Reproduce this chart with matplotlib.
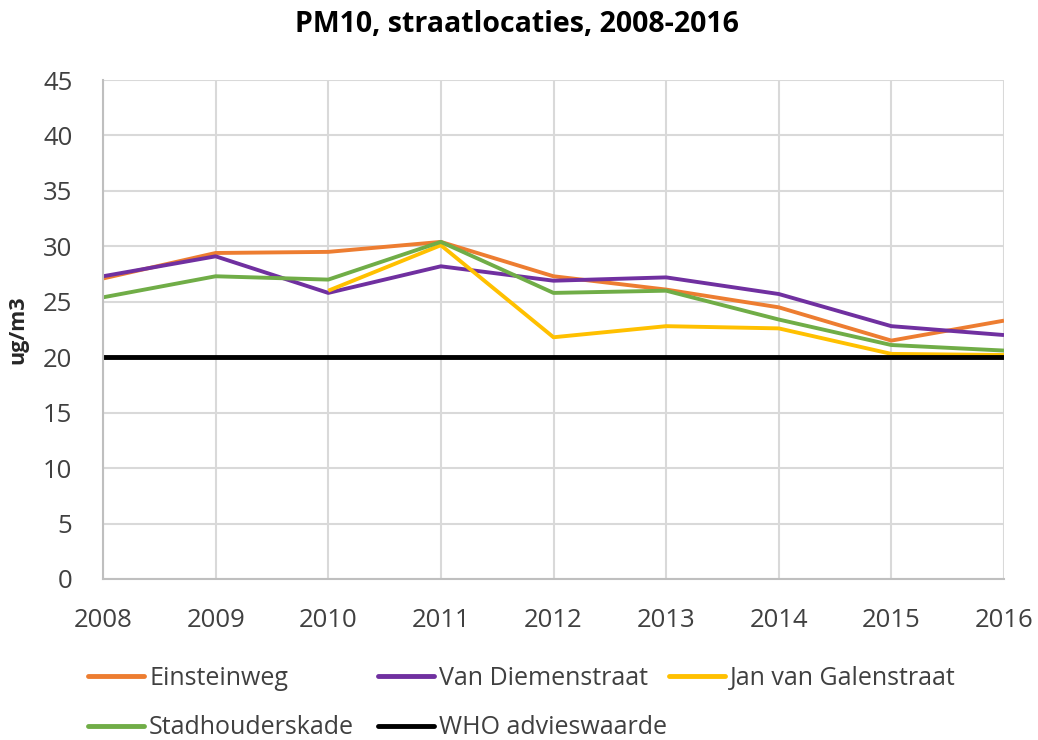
import numpy as np
import matplotlib
matplotlib.use("Agg")
import matplotlib.pyplot as plt

plt.rcParams['font.family'] = ['Open Sans', 'DejaVu Sans']

# PM10 annual means at street locations (ug/m3)
years = [2008, 2009, 2010, 2011, 2012, 2013, 2014, 2015, 2016]
einsteinweg = [27.1, 29.4, 29.5, 30.4, 27.3, 26.1, 24.5, 21.5, 23.3]
van_diemenstraat = [27.3, 29.1, 25.8, 28.2, 26.9, 27.2, 25.7, 22.8, 22.0]
jan_van_galenstraat = [np.nan, np.nan, 26.0, 30.1, 21.8, 22.8, 22.6, 20.3, 20.2]
stadhouderskade = [25.4, 27.3, 27.0, 30.4, 25.8, 26.0, 23.4, 21.1, 20.6]
who_advieswaarde = [20, 20, 20, 20, 20, 20, 20, 20, 20]

series = [
    ("Einsteinweg", einsteinweg, "#ED7D31", 2.8),
    ("Van Diemenstraat", van_diemenstraat, "#7030A0", 2.8),
    ("Jan van Galenstraat", jan_van_galenstraat, "#FFC000", 2.8),
    ("Stadhouderskade", stadhouderskade, "#70AD47", 2.8),
    ("WHO advieswaarde", who_advieswaarde, "#000000", 3.5),
]

W, H = 1038, 740
fig = plt.figure(figsize=(W / 100, H / 100), dpi=100)
ax = fig.add_axes([103 / W, 1 - 579 / H, (1004 - 103) / W, (579 - 80) / H])

handles = {}
for name, vals, color, lw in series:
    (ln,) = ax.plot(years, vals, color=color, lw=lw, label=name,
                    solid_capstyle='butt', solid_joinstyle='round')
    handles[name] = ln

ax.set_xlim(2008, 2016)
ax.set_ylim(0, 45)
ax.set_xticks(years)
ax.set_yticks(range(0, 46, 5))
ax.grid(True, color="#D9D9D9", lw=1.5)
ax.set_axisbelow(True)
for side in ("top", "right"):
    ax.spines[side].set_visible(False)
for side in ("left", "bottom"):
    ax.spines[side].set_color("#BFBFBF")
    ax.spines[side].set_linewidth(1.5)
ax.tick_params(length=0, labelsize=18.5, colors="#404040")
ax.tick_params(axis='y', pad=22)
ax.tick_params(axis='x', pad=21)

ax.set_ylabel("ug/m3", fontsize=15.5, fontweight='bold', color="#262626")
ax.yaxis.set_label_coords(-(103 - 28) / (1004 - 103), 0.5)

fig.text(517 / W, 1 - 25 / H, "PM10, straatlocaties, 2008-2016", ha='center', va='center',
         fontsize=20.5, fontweight='bold', color="#000000")

# legend laid out in three equal-width columns
columns = [
    (88, ["Einsteinweg", "Stadhouderskade"]),
    (378, ["Van Diemenstraat", "WHO advieswaarde"]),
    (669, ["Jan van Galenstraat"]),
]
for x0, names in columns:
    leg = fig.legend([handles[n] for n in names], names,
                     loc='upper left', bbox_to_anchor=(x0 / W, 1 - 666 / H),
                     frameon=False, fontsize=18, handlelength=2.25, handletextpad=0.2,
                     labelspacing=0.98, borderpad=0, borderaxespad=0)
    for t in leg.get_texts():
        t.set_color("#404040")
    for lh in leg.get_lines():
        lh.set_linewidth(3.5)
        lh.set_solid_capstyle('round')

fig.savefig("out.png", dpi=100)
